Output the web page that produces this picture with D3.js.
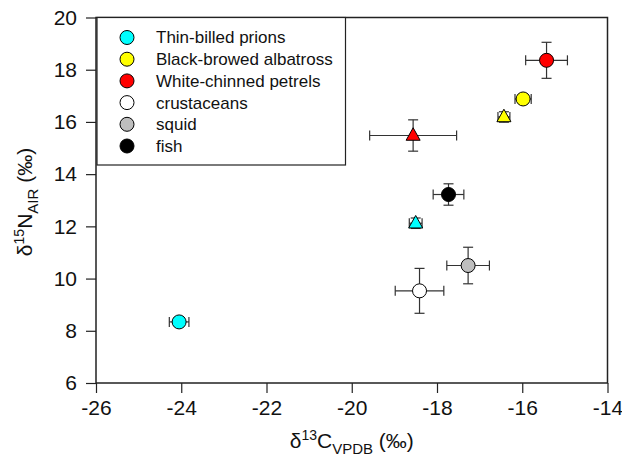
<!DOCTYPE html>
<html><head><meta charset="utf-8">
<script src="https://cdn.jsdelivr.net/npm/d3@7"></script>
<style>
body{margin:0;background:#fff;}
svg{display:block;font-family:"Liberation Sans",Arial,sans-serif;}
</style></head>
<body><svg id="c" width="622" height="459"></svg>
<script>
// ---- data ----
const groups = ["Thin-billed prions","Black-browed albatross","White-chinned petrels","crustaceans","squid","fish"];
const pointGroup  = ["Thin-billed prions","Thin-billed prions","Black-browed albatross","Black-browed albatross","White-chinned petrels","White-chinned petrels","crustaceans","squid","fish"];
const pointMarker = ["circle","triangle","circle","triangle","circle","triangle","circle","circle","circle"];
const d13C   = [-24.05,-18.5,-15.98,-16.43,-15.43,-18.56,-18.41,-17.27,-17.73];
const d13CSd = [0.23,0.15,0.19,0.14,0.49,1.02,0.57,0.50,0.36];
const d15N   = [8.34,12.12,16.88,16.19,18.36,15.48,9.53,10.5,13.22];
const d15NSd = [0.15,0.2,0.15,0.2,0.69,0.6,0.86,0.7,0.41];
const xTicks = [-26,-24,-22,-20,-18,-16,-14];
const yTicks = [6,8,10,12,14,16,18,20];

// ---- styles ----
const fillOf = {"Thin-billed prions":"#00FFFF","Black-browed albatross":"#FFFF00","White-chinned petrels":"#FF0000","crustaceans":"#FFFFFF","squid":"#BEBEBE","fish":"#000000"};

const svg = d3.select("#c");
const L=96, R=607.5, T=17.5, B=383;
const x = d3.scaleLinear().domain([-26,-14]).range([L,R]);
const y = d3.scaleLinear().domain([6,20]).range([B,T]);

const fs = 21;
const gx = svg.append("g").attr("transform",`translate(0,${B})`)
  .call(d3.axisBottom(x).tickValues(xTicks).tickFormat(d=>String(d)).tickSize(10).tickSizeOuter(0).tickPadding(7));
const gy = svg.append("g").attr("transform",`translate(${L},0)`)
  .call(d3.axisLeft(y).tickValues(yTicks).tickFormat(d=>String(d)).tickSize(10).tickSizeOuter(0).tickPadding(9));
[gx,gy].forEach(g=>{
  g.select(".domain").remove();
  g.selectAll(".tick line").attr("stroke","#222").attr("stroke-width",1.2);
  g.selectAll(".tick text").attr("font-size",fs).attr("fill","#111").attr("font-family","Liberation Sans, Arial, sans-serif");
});

// frame
svg.append("rect").attr("x",L).attr("y",T).attr("width",R-L).attr("height",B-T)
  .attr("fill","none").attr("stroke","#222").attr("stroke-width",1.5);

// legend
const lg = svg.append("g");
lg.append("rect").attr("x",L+1).attr("y",T).attr("width",248.5).attr("height",147.5)
  .attr("fill","#fff").attr("stroke","#222").attr("stroke-width",1.2);
groups.forEach((g,i)=>{
  const cy = 37.5 + i*21.7;
  lg.append("circle").attr("cx",127).attr("cy",cy).attr("r",7).attr("fill",fillOf[g]).attr("stroke","#000").attr("stroke-width",1);
  lg.append("text").attr("x",156).attr("y",cy).attr("dy","0.35em").attr("font-size",17).attr("fill","#111").text(g);
});

// points
const pts = d13C.map((v,i)=>({x:v,y:d15N[i],xs:d13CSd[i],ys:d15NSd[i],g:pointGroup[i],m:pointMarker[i]}));
const eb = svg.append("g").attr("stroke","#333").attr("stroke-width",1.2).attr("fill","none");
const cap=5;
pts.forEach(p=>{
  const cx=x(p.x), cy=y(p.y), x0=x(p.x-p.xs), x1=x(p.x+p.xs), y0=y(p.y-p.ys), y1=y(p.y+p.ys);
  eb.append("line").attr("x1",x0).attr("x2",x1).attr("y1",cy).attr("y2",cy);
  eb.append("line").attr("x1",x0).attr("x2",x0).attr("y1",cy-cap).attr("y2",cy+cap);
  eb.append("line").attr("x1",x1).attr("x2",x1).attr("y1",cy-cap).attr("y2",cy+cap);
  eb.append("line").attr("x1",cx).attr("x2",cx).attr("y1",y0).attr("y2",y1);
  eb.append("line").attr("x1",cx-cap).attr("x2",cx+cap).attr("y1",y0).attr("y2",y0);
  eb.append("line").attr("x1",cx-cap).attr("x2",cx+cap).attr("y1",y1).attr("y2",y1);
});
const mk = svg.append("g");
pts.forEach(p=>{
  const cx=x(p.x), cy=y(p.y);
  if(p.m==="circle"){
    mk.append("circle").attr("cx",cx).attr("cy",cy).attr("r",7).attr("fill",fillOf[p.g]).attr("stroke","#000").attr("stroke-width",1);
  } else {
    const h=12.5, w=14;
    mk.append("path").attr("d",`M${cx},${cy-h*0.62}L${cx+w/2},${cy+h*0.38}L${cx-w/2},${cy+h*0.38}Z`)
      .attr("fill",fillOf[p.g]).attr("stroke","#000").attr("stroke-width",1);
  }
});

// axis titles
const xt = svg.append("text").attr("x",(L+R)/2).attr("y",448).attr("text-anchor","middle").attr("font-size",21).attr("fill","#111");
xt.append("tspan").text("δ");
xt.append("tspan").attr("font-size",14).attr("dy",-8).text("13");
xt.append("tspan").attr("dy",8).text("C");
xt.append("tspan").attr("font-size",15).attr("dy",6).text("VPDB");
xt.append("tspan").attr("dy",-6).text(" (‰)");

const yt = svg.append("text").attr("transform","translate(32,202) rotate(-90)").attr("text-anchor","middle").attr("font-size",21).attr("fill","#111");
yt.append("tspan").text("δ");
yt.append("tspan").attr("font-size",14).attr("dy",-8).text("15");
yt.append("tspan").attr("dy",8).text("N");
yt.append("tspan").attr("font-size",15).attr("dy",6).text("AIR");
yt.append("tspan").attr("dy",-6).text(" (‰)");
</script></body></html>
